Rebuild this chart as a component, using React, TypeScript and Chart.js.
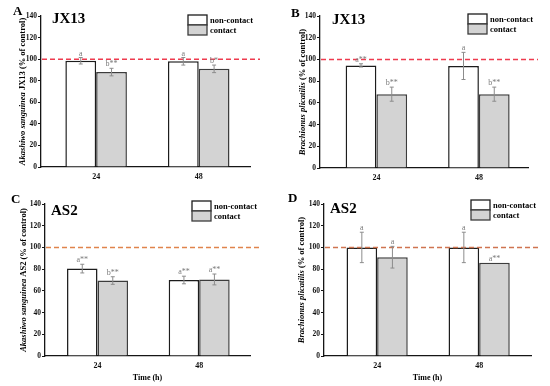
import React, { useEffect, useRef } from 'react';
import { Chart, registerables } from 'chart.js';

Chart.register(...registerables);

const FONT = "'Liberation Serif', 'Times New Roman', serif";

// ---- shared data ----
const hours = [24, 48];
const legendLabels = ['non-contact', 'contact'];
const yMin = 0;
const yMax = 140;
const yStep = 20;
const controlLevel = 100;

// ---- Panel A: Akashiwo sanguinea, JX13 ----
const aNonContact = [98.5, 98];
const aNonContactErr = [3, 3.5];
const aContact = [88, 91];
const aContactErr = [3.5, 3.5];
const aNonContactSig = ['a', 'a'];
const aContactSig = ['b**', 'b*'];

// ---- Panel B: Brachionus plicatilis, JX13 ----
const bNonContact = [94.5, 94];
const bNonContactErr = [1.5, 12.5];
const bContact = [68, 68];
const bContactErr = [6.5, 6.5];
const bNonContactSig = ['a**', 'a'];
const bContactSig = ['b**', 'b**'];

// ---- Panel C: Akashiwo sanguinea, AS2 ----
const cNonContact = [80.5, 70];
const cNonContactErr = [4, 3.5];
const cContact = [69.5, 70.5];
const cContactErr = [3.5, 5];
const cNonContactSig = ['a**', 'a**'];
const cContactSig = ['b**', 'a**'];

// ---- Panel D: Brachionus plicatilis, AS2 ----
const dNonContact = [100, 100];
const dNonContactErr = [14, 14];
const dContact = [91, 86];
const dContactErr = [10, 0];
const dNonContactSig = ['a', 'a'];
const dContactSig = ['a', 'a**'];

interface PanelCfg {
  letter: string;
  title: string;
  yItalic: string;
  yRest: string;
  showTime: boolean;
  nc: number[];
  ncErr: number[];
  c: number[];
  cErr: number[];
  ncSig: string[];
  cSig: string[];
  box: { left: number; top: number; w: number; h: number };
  area: { left: number; top: number; right: number; bottom: number };
  xMin: number;
  xMax: number;
  letterPos: [number, number];
  titlePos: [number, number];
  legendPos: [number, number];
  yTitleX: number;
  refColor: string;
}

const panels: PanelCfg[] = [
  {
    letter: 'A', title: 'JX13', yItalic: 'Akashiwo sanguinea', yRest: ' JX13 (% of control)', showTime: false,
    nc: aNonContact, ncErr: aNonContactErr, c: aContact, cErr: aContactErr, ncSig: aNonContactSig, cSig: aContactSig,
    box: { left: 0, top: 0, w: 275, h: 193 }, area: { left: 41, top: 16, right: 250, bottom: 167 },
    xMin: 11.1, xMax: 60, letterPos: [13, 15], titlePos: [52, 23], legendPos: [188, 15], yTitleX: 23, refColor: '#ee3b4e',
  },
  {
    letter: 'B', title: 'JX13', yItalic: 'Brachionus plicatilis', yRest: ' (% of control)', showTime: false,
    nc: bNonContact, ncErr: bNonContactErr, c: bContact, cErr: bContactErr, ncSig: bNonContactSig, cSig: bContactSig,
    box: { left: 275, top: 0, w: 275, h: 193 }, area: { left: 45, top: 16, right: 253, bottom: 168 },
    xMin: 10.8, xMax: 59.5, letterPos: [16, 17], titlePos: [57, 24], legendPos: [193, 14], yTitleX: 28, refColor: '#ee3b4e',
  },
  {
    letter: 'C', title: 'AS2', yItalic: 'Akashiwo sanguinea', yRest: ' AS2 (% of control)', showTime: true,
    nc: cNonContact, ncErr: cNonContactErr, c: cContact, cErr: cContactErr, ncSig: cNonContactSig, cSig: cContactSig,
    box: { left: 0, top: 193, w: 275, h: 193 }, area: { left: 45, top: 11, right: 250, bottom: 163 },
    xMin: 11.6, xMax: 60, letterPos: [11, 10], titlePos: [51, 22], legendPos: [192, 8], yTitleX: 24, refColor: '#e0844c',
  },
  {
    letter: 'D', title: 'AS2', yItalic: 'Brachionus plicatilis', yRest: ' (% of control)', showTime: true,
    nc: dNonContact, ncErr: dNonContactErr, c: dContact, cErr: dContactErr, ncSig: dNonContactSig, cSig: dContactSig,
    box: { left: 275, top: 193, w: 275, h: 193 }, area: { left: 49, top: 11, right: 256, bottom: 163 },
    xMin: 11.5, xMax: 60.2, letterPos: [13, 9], titlePos: [55, 20], legendPos: [196, 7], yTitleX: 27, refColor: '#cf7450',
  },
];

const NC_FILL = '#ffffff';
const NC_BORDER = '#1c1c1c';
const C_FILL = '#d3d3d3';
const C_BORDER = '#3c3c3c';
const ERR_COLOR = '#8c8c8c';
const SIG_COLOR = '#7a7a7a';
const AXIS_COLOR = '#151515';

function makeDecorPlugin(cfg: PanelCfg) {
  return {
    id: 'panelDecor',
    afterDatasetsDraw(chart: any) {
      const ctx = chart.ctx as CanvasRenderingContext2D;
      const y = chart.scales.y;
      const area = chart.chartArea;
      // reference line at control level
      ctx.save();
      ctx.strokeStyle = cfg.refColor;
      ctx.lineWidth = 1.5;
      ctx.setLineDash([5, 3]);
      const yy = y.getPixelForValue(controlLevel);
      ctx.beginPath();
      ctx.moveTo(area.left + 1, yy);
      ctx.lineTo(area.right + 10, yy);
      ctx.stroke();
      ctx.restore();

      // error bars + significance letters
      const sets = [
        { vals: cfg.nc, errs: cfg.ncErr, sig: cfg.ncSig },
        { vals: cfg.c, errs: cfg.cErr, sig: cfg.cSig },
      ];
      sets.forEach((s, di) => {
        const meta = chart.getDatasetMeta(di);
        meta.data.forEach((bar: any, i: number) => {
          const x = bar.x;
          const top = y.getPixelForValue(s.vals[i] + s.errs[i]);
          const bot = y.getPixelForValue(s.vals[i] - s.errs[i]);
          ctx.save();
          if (s.errs[i] > 0) {
            ctx.strokeStyle = ERR_COLOR;
            ctx.lineWidth = 1;
            ctx.beginPath();
            ctx.moveTo(x, top);
            ctx.lineTo(x, bot);
            ctx.moveTo(x - 2, top);
            ctx.lineTo(x + 2, top);
            ctx.moveTo(x - 2, bot);
            ctx.lineTo(x + 2, bot);
            ctx.stroke();
          }
          ctx.fillStyle = SIG_COLOR;
          ctx.font = `8px ${FONT}`;
          ctx.textAlign = 'center';
          ctx.textBaseline = 'alphabetic';
          const base = Math.min(top, bar.y) - 2;
          ctx.fillText(s.sig[i], x, base);
          ctx.restore();
        });
      });
    },
    afterDraw(chart: any) {
      const ctx = chart.ctx as CanvasRenderingContext2D;
      const area = chart.chartArea;
      ctx.save();
      ctx.fillStyle = '#000';
      ctx.textBaseline = 'alphabetic';
      // panel letter
      ctx.font = `bold 13px ${FONT}`;
      ctx.textAlign = 'left';
      ctx.fillText(cfg.letter, cfg.letterPos[0], cfg.letterPos[1]);
      // title
      ctx.font = `bold 15px ${FONT}`;
      ctx.fillText(cfg.title, cfg.titlePos[0], cfg.titlePos[1]);
      // legend
      const [lx, ly] = cfg.legendPos;
      const bw = 19;
      const bh = 10;
      const items = [
        { fill: NC_FILL, stroke: NC_BORDER },
        { fill: C_FILL, stroke: C_BORDER },
      ];
      items.forEach((it, i) => {
        const by = ly + i * bh;
        ctx.fillStyle = it.fill;
        ctx.fillRect(lx, by, bw, bh);
        ctx.strokeStyle = it.stroke;
        ctx.lineWidth = 1.3;
        ctx.strokeRect(lx, by, bw, bh);
        ctx.fillStyle = '#000';
        ctx.font = `bold 8.5px ${FONT}`;
        ctx.textBaseline = 'middle';
        ctx.fillText(legendLabels[i], lx + bw + 3, by + bh / 2 + 0.5);
      });
      // y-axis title (rotated, mixed italic)
      ctx.save();
      const cy = (area.top + area.bottom) / 2;
      ctx.translate(cfg.yTitleX, cy);
      ctx.rotate(-Math.PI / 2);
      const fItal = `italic bold 8.5px ${FONT}`;
      const fReg = `bold 8.5px ${FONT}`;
      ctx.font = fItal;
      const w1 = ctx.measureText(cfg.yItalic).width;
      ctx.font = fReg;
      const w2 = ctx.measureText(cfg.yRest).width;
      const start = -(w1 + w2) / 2;
      ctx.textAlign = 'left';
      ctx.textBaseline = 'middle';
      ctx.fillStyle = '#000';
      ctx.font = fItal;
      ctx.fillText(cfg.yItalic, start, 0);
      ctx.font = fReg;
      ctx.fillText(cfg.yRest, start + w1, 0);
      ctx.restore();
      // x-axis title
      if (cfg.showTime) {
        ctx.font = `bold 8px ${FONT}`;
        ctx.textAlign = 'center';
        ctx.textBaseline = 'alphabetic';
        ctx.fillStyle = '#000';
        ctx.fillText('Time (h)', (area.left + area.right) / 2, 187);
      }
      ctx.restore();
    },
  };
}

function Panel({ cfg }: { cfg: PanelCfg }) {
  const ref = useRef<HTMLCanvasElement | null>(null);
  useEffect(() => {
    if (!ref.current) return;
    const { w, h } = cfg.box;
    const area = cfg.area;
    const chart = new Chart(ref.current, {
      type: 'bar',
      data: {
        datasets: [
          {
            label: legendLabels[0],
            data: hours.map((hr, i) => ({ x: hr, y: cfg.nc[i] })),
            backgroundColor: NC_FILL,
            borderColor: NC_BORDER,
            borderWidth: 1.5,
            categoryPercentage: 0.6,
            barPercentage: 1,
          },
          {
            label: legendLabels[1],
            data: hours.map((hr, i) => ({ x: hr, y: cfg.c[i] })),
            backgroundColor: C_FILL,
            borderColor: C_BORDER,
            borderWidth: 1.5,
            categoryPercentage: 0.6,
            barPercentage: 1,
          },
        ] as any,
      },
      options: {
        responsive: false,
        animation: false,
        events: [],
        layout: { padding: { left: 0, top: area.top, right: w - area.right, bottom: 0 } },
        plugins: { legend: { display: false }, tooltip: { enabled: false }, title: { display: false } },
        scales: {
          x: {
            type: 'linear',
            min: cfg.xMin,
            max: cfg.xMax,
            offset: false,
            afterBuildTicks: (s: any) => {
              s.ticks = hours.map((v) => ({ value: v }));
            },
            afterFit: (s: any) => {
              s.height = h - area.bottom;
              s.paddingLeft = 0;
              s.paddingRight = 0;
            },
            grid: { display: false, drawTicks: false },
            border: { display: true, color: AXIS_COLOR, width: 1.3 },
            ticks: {
              autoSkip: false,
              maxRotation: 0,
              padding: 5,
              color: '#111',
              font: { family: FONT, size: 8, weight: 'bold' },
              callback: (v: any) => String(v),
            },
          },
          y: {
            min: yMin,
            max: yMax,
            afterFit: (s: any) => {
              s.width = area.left;
              s.paddingTop = 0;
              s.paddingBottom = 0;
            },
            grid: { display: true, drawOnChartArea: false, drawTicks: true, tickLength: 3, color: AXIS_COLOR, lineWidth: 1 },
            border: { display: true, color: AXIS_COLOR, width: 1.3 },
            ticks: {
              stepSize: yStep,
              padding: 1,
              color: '#111',
              font: { family: FONT, size: 7.5, weight: 'bold' },
            },
          },
        },
      } as any,
      plugins: [makeDecorPlugin(cfg)],
    });
    return () => chart.destroy();
  }, [cfg]);
  return (
    <canvas
      ref={ref}
      width={cfg.box.w}
      height={cfg.box.h}
      style={{ position: 'absolute', left: cfg.box.left, top: cfg.box.top, width: cfg.box.w, height: cfg.box.h }}
    />
  );
}

export default function App() {
  return (
    <div style={{ position: 'absolute', left: 0, top: 0, width: 550, height: 386, background: '#fff' }}>
      {panels.map((p) => (
        <Panel key={p.letter} cfg={p} />
      ))}
    </div>
  );
}
